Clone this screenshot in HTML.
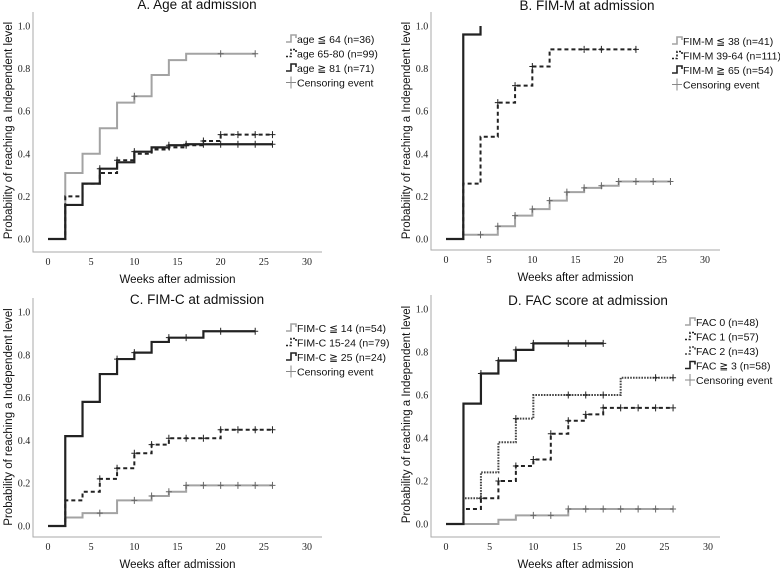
<!DOCTYPE html>
<html><head><meta charset="utf-8"><style>
html,body{margin:0;padding:0;background:#fff;}
svg{display:block;font-family:"Liberation Sans",sans-serif;}
</style></head><body>
<svg id="fig" width="780" height="570" viewBox="0 0 780 570" xmlns="http://www.w3.org/2000/svg"></svg>
<script>
// ---- data ----
const weekTicks = [0,5,10,15,20,25,30];
const probTicks = ["0.0","0.2","0.4","0.6","0.8","1.0"];
const probTickValues = [0,0.2,0.4,0.6,0.8,1.0];

const panelTitles = ["A. Age at admission","B. FIM-M at admission","C. FIM-C at admission","D. FAC score at admission"];

const aLabels = ["age \u2266 64 (n=36)","age 65-80 (n=99)","age \u2267 81 (n=71)"];
const aT1 = [0,2,4,6,8,10,12,14,16,24];       const aV1 = [0,0.31,0.40,0.52,0.64,0.67,0.77,0.84,0.87,0.87];
const aC1 = [10,20,24];
const aT2 = [0,2,4,6,8,10,12,14,16,18,20,26]; const aV2 = [0,0.20,0.26,0.31,0.37,0.40,0.42,0.43,0.44,0.46,0.49,0.49];
const aC2 = [8,16,18,20,22,24,26];
const aT3 = [0,2,4,6,8,10,12,14,16,26];       const aV3 = [0,0.16,0.26,0.33,0.36,0.41,0.43,0.44,0.445,0.445];
const aC3 = [6,10,14,16,18,20,22,24,26];

const bLabels = ["FIM-M \u2266 38 (n=41)","FIM-M 39-64 (n=111)","FIM-M \u2267 65 (n=54)"];
const bT1 = [0,2,6,8,10,12,14,16,18,20,26]; const bV1 = [0,0.02,0.06,0.11,0.14,0.18,0.22,0.24,0.25,0.27,0.27];
const bC1 = [4,6,8,10,12,14,16,18,20,22,24,26];
const bT2 = [0,2,4,6,8,10,12,22];           const bV2 = [0,0.26,0.48,0.64,0.72,0.81,0.89,0.89];
const bC2 = [6,8,10,16,18,22];
const bT3 = [0,2,4,4];                      const bV3 = [0,0.96,1.0,1.0];
const bC3 = [];

const cLabels = ["FIM-C \u2266 14 (n=54)","FIM-C 15-24 (n=79)","FIM-C \u2267 25 (n=24)"];
const cT1 = [0,2,4,8,12,14,16,26];           const cV1 = [0,0.04,0.06,0.12,0.14,0.16,0.19,0.19];
const cC1 = [6,10,12,14,16,18,20,22,24,26];
const cT2 = [0,2,4,6,8,10,12,14,20,26];      const cV2 = [0,0.12,0.16,0.22,0.27,0.34,0.38,0.41,0.45,0.45];
const cC2 = [6,8,10,12,14,16,18,20,22,24,26];
const cT3 = [0,2,4,6,8,10,12,14,18,24];      const cV3 = [0,0.42,0.58,0.71,0.78,0.81,0.86,0.88,0.91,0.91];
const cC3 = [8,10,14,16,20,24];

const dLabels = ["FAC 0 (n=48)","FAC 1 (n=57)","FAC 2 (n=43)","FAC \u2267 3 (n=58)"];
const dT1 = [0,6,8,14,26];                        const dV1 = [0,0.02,0.04,0.07,0.07];
const dC1 = [10,12,14,16,18,20,22,24,26];
const dT2 = [0,2,4,6,8,10,12,14,16,18,26];        const dV2 = [0,0.07,0.12,0.20,0.27,0.30,0.42,0.48,0.51,0.54,0.54];
const dC2 = [4,6,8,10,12,14,16,18,20,22,24,26];
const dT3 = [0,2,4,6,8,10,20,26];                 const dV3 = [0,0.12,0.24,0.38,0.49,0.60,0.68,0.68];
const dC3 = [8,14,16,18,24,26];
const dT4 = [0,2,4,6,8,10,18];                    const dV4 = [0,0.56,0.70,0.76,0.81,0.84,0.84];
const dC4 = [4,6,8,10,14,16,18];

// ---- drawing ----
const NS="http://www.w3.org/2000/svg";
const svg=document.getElementById('fig');
function mk(tag,attrs,parent){const e=document.createElementNS(NS,tag);for(const k in attrs)e.setAttribute(k,attrs[k]);(parent||svg).appendChild(e);return e;}

const STY = {
  gray:{stroke:"#a3a3a3",dash:"",w:2},
  dash:{stroke:"#222",dash:"4,3",w:2},
  dot:{stroke:"#444",dash:"1.6,1.2",w:2},
  black:{stroke:"#222",dash:"",w:2.2}
};

const panels = [
 {key:"a",ax:33,ay:252,axR:322,x0:48,x30:307,y0:239,y1:26,tx:197,ty:9,lx:286,ly:39,lh:14.5,
  labels:aLabels,series:[[aT1,aV1,aC1,"gray"],[aT2,aV2,aC2,"dash"],[aT3,aV3,aC3,"black"]]},
 {key:"b",ax:431,ay:250,axR:720,x0:446,x30:705,y0:239,y1:26,tx:587,ty:10,lx:672,ly:41,lh:14.5,
  labels:bLabels,series:[[bT1,bV1,bC1,"gray"],[bT2,bV2,bC2,"dash"],[bT3,bV3,bC3,"black"]]},
 {key:"c",ax:33,ay:537,axR:322,x0:48,x30:307,y0:526,y1:312,tx:197,ty:304,lx:286,ly:328,lh:14.5,
  labels:cLabels,series:[[cT1,cV1,cC1,"gray"],[cT2,cV2,cC2,"dash"],[cT3,cV3,cC3,"black"]]},
 {key:"d",ax:431,ay:537,axR:720,x0:446,x30:708,y0:524,y1:309,tx:588,ty:305,lx:685,ly:322,lh:14.5,
  labels:dLabels,series:[[dT1,dV1,dC1,"gray"],[dT2,dV2,dC2,"dash"],[dT3,dV3,dC3,"dot"],[dT4,dV4,dC4,"black"]]}
];

panels.forEach(p=>{
  const g=mk('g',{});
  
  
  const X=t=>p.x0+(p.x30-p.x0)*t/30;
  const Y=v=>p.y0-(p.y0-p.y1)*v;
  // title
  const ti=mk('text',{x:p.tx,y:p.ty,'text-anchor':'middle','font-size':13.5,fill:'#111'},g);
  ti.textContent=panelTitles["abcd".indexOf(p.key)];
  
  
  // axes
  const axl=mk('path',{d:`M${p.ax},${p.y1-14}V${p.ay}H${p.axR}`,fill:'none',stroke:'#aaa','stroke-width':1},g);
  
  
  probTickValues.forEach((v,i)=>{
    const t=mk('text',{x:p.ax-9,y:Y(v)+3.5,'text-anchor':'middle','font-size':10,'font-family':'"Liberation Serif",serif',fill:'#222'},g);
    t.textContent=probTicks[i];
    
    
  });
  weekTicks.forEach(w=>{
    const t=mk('text',{x:X(w),y:p.ay+13,'text-anchor':'middle','font-size':10,'font-family':'"Liberation Serif",serif',fill:'#222'},g);
    t.textContent=w;
    
    
  });
  const xt=mk('text',{x:(p.ax+p.axR)/2,y:p.ay+31,'text-anchor':'middle','font-size':11.5,fill:'#111'},g);
  xt.textContent="Weeks after admission";
  
  
  const yc=(p.y0+p.y1)/2-2;
  const yt=mk('text',{x:p.ax-21,y:yc,'text-anchor':'middle','font-size':11.5,fill:'#111',transform:`rotate(-90 ${p.ax-21} ${yc})`},g);
  yt.textContent="Probability of reaching a Independent level";
  
  
  // series
  p.series.forEach((s,si)=>{
    const [T,V,C,sty]=s; const st=STY[sty];
    let d=`M${X(T[0])},${Y(V[0])}`;
    for(let i=1;i<T.length;i++){ d+=`H${X(T[i])}V${Y(V[i])}`; }
    const line=mk('path',{d:d,fill:'none',stroke:st.stroke,'stroke-width':st.w,'stroke-dasharray':st.dash},g);
    
    
    // censor marks
    const vAt=t=>{let v=V[0];for(let i=0;i<T.length;i++){if(T[i]<=t)v=V[i];}return v;};
    C.forEach(c=>{
      const cx=X(c),cy=Y(vAt(c));
      const m=mk('path',{d:`M${cx-3},${cy}H${cx+3}M${cx},${cy-3.5}V${cy+3.5}`,stroke:st.stroke==="#a3a3a3"?"#666":"#222",'stroke-width':1},g);
      
      
    });
    // legend entry
    const ly=p.ly+si*p.lh;
    const lg=mk('g',{},g);
    
    
    mk('path',{d:`M${p.lx},${ly+3}h5v-7h5v3`,fill:'none',stroke:st.stroke,'stroke-width':1.6,'stroke-dasharray':st.dash?"2,1.5":""},lg);
    const lt=mk('text',{x:p.lx+11,y:ly+4,'font-size':10.5,fill:'#111'},lg);
    lt.textContent=p.labels[si];
  });
  const ly=p.ly+p.series.length*p.lh;
  const cg=mk('g',{},g);
  
  
  mk('path',{d:`M${p.lx},${ly}h10M${p.lx+5},${ly-6}v12`,stroke:'#888','stroke-width':1},cg);
  const ct=mk('text',{x:p.lx+11,y:ly+4,'font-size':10.5,fill:'#111'},cg);
  ct.textContent="Censoring event";
});
</script>
</body></html>
